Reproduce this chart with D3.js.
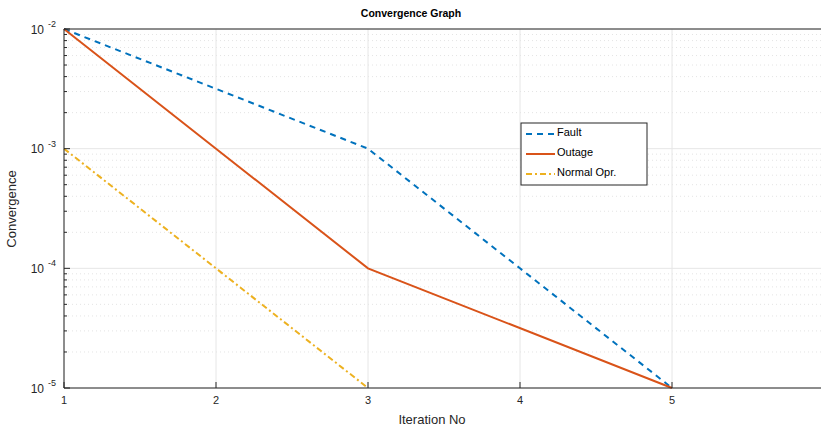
<!DOCTYPE html>
<html>
<head>
<meta charset="utf-8">
<script src="https://cdn.jsdelivr.net/npm/d3@7"></script>
<style>
  body { margin: 0; background: #fff; overflow: hidden; }
  svg { display: block; font-family: "Liberation Sans", Arial, sans-serif; }
</style>
</head>
<body>
<div id="chart"></div>
<script>
// Data
const faultX = [1, 3, 4, 5];
const faultY = [1e-2, 1e-3, 1e-4, 1e-5];
const outageX = [1, 2, 3, 5];
const outageY = [1e-2, 1e-3, 1e-4, 1e-5];
const normalX = [1, 2, 3];
const normalY = [1e-3, 1e-4, 1e-5];
const xTicks = [1, 2, 3, 4, 5];
const yExponents = [-2, -3, -4, -5];

const series = [
  { name: "Fault", xs: faultX, ys: faultY, color: "#0072BD", dash: "6,5" },
  { name: "Outage", xs: outageX, ys: outageY, color: "#D95319", dash: null },
  { name: "Normal Opr.", xs: normalX, ys: normalY, color: "#EDB120", dash: "6,3,2,3" }
];

// Layout
const W = 821, H = 429;
const plot = { left: 64, top: 29, right: 824, bottom: 388 };

const svg = d3.select("#chart").append("svg")
  .attr("width", W).attr("height", H);

const x = d3.scaleLinear().domain([1, 6]).range([plot.left, plot.right]);
const y = d3.scaleLog().domain([1e-5, 1e-2]).range([plot.bottom, plot.top]);

// minor grid (log)
const minors = [];
yExponents.forEach(e => {
  if (e === -2) return;
  for (let k = 2; k <= 9; k++) minors.push(k * Math.pow(10, e));
});

const grid = svg.append("g");
grid.selectAll(".minor").data(minors).enter().append("line")
  .attr("x1", plot.left).attr("x2", plot.right)
  .attr("y1", d => y(d)).attr("y2", d => y(d))
  .attr("stroke", "#e4e4e4").attr("stroke-width", 1)
  .attr("stroke-dasharray", "1,3");

grid.selectAll(".ymaj").data(yExponents.map(e => Math.pow(10, e))).enter().append("line")
  .attr("x1", plot.left).attr("x2", plot.right)
  .attr("y1", d => y(d)).attr("y2", d => y(d))
  .attr("stroke", "#e6e6e6").attr("stroke-width", 1);

grid.selectAll(".xmaj").data(xTicks).enter().append("line")
  .attr("x1", d => x(d)).attr("x2", d => x(d))
  .attr("y1", plot.top).attr("y2", plot.bottom)
  .attr("stroke", "#e6e6e6").attr("stroke-width", 1);

// lines
const line = d3.line().x(d => x(d[0])).y(d => y(d[1]));
series.forEach(s => {
  const pts = s.xs.map((v, i) => [v, s.ys[i]]);
  svg.append("path")
    .attr("d", line(pts))
    .attr("fill", "none")
    .attr("stroke", s.color)
    .attr("stroke-width", 2)
    .attr("stroke-dasharray", s.dash);
});

// axes box
const axisColor = "#262626";
svg.append("line").attr("x1", plot.left).attr("x2", plot.right).attr("y1", plot.top).attr("y2", plot.top)
  .attr("stroke", axisColor).attr("stroke-width", 1);
svg.append("line").attr("x1", plot.left).attr("x2", plot.right).attr("y1", plot.bottom).attr("y2", plot.bottom)
  .attr("stroke", axisColor).attr("stroke-width", 1);
svg.append("line").attr("x1", plot.left).attr("x2", plot.left).attr("y1", plot.top).attr("y2", plot.bottom)
  .attr("stroke", axisColor).attr("stroke-width", 1);

// y ticks
svg.selectAll(".ytick").data(yExponents.map(e => Math.pow(10, e))).enter().append("line")
  .attr("x1", plot.left).attr("x2", plot.left + 6)
  .attr("y1", d => y(d)).attr("y2", d => y(d))
  .attr("stroke", axisColor);
svg.selectAll(".yminor").data(minors).enter().append("line")
  .attr("x1", plot.left).attr("x2", plot.left + 3)
  .attr("y1", d => y(d)).attr("y2", d => y(d))
  .attr("stroke", axisColor);

// x ticks
svg.selectAll(".xtick").data(xTicks).enter().append("line")
  .attr("x1", d => x(d)).attr("x2", d => x(d))
  .attr("y1", plot.bottom).attr("y2", plot.bottom - 6)
  .attr("stroke", axisColor);

svg.selectAll(".xlab").data(xTicks).enter().append("text")
  .attr("x", d => x(d)).attr("y", plot.bottom + 16)
  .attr("text-anchor", "middle")
  .attr("font-size", 11).attr("fill", axisColor)
  .text(d => d);

const ylab = svg.selectAll(".ylab").data(yExponents).enter().append("g")
  .attr("transform", e => `translate(${plot.left - 8},${y(Math.pow(10, e))})`);
ylab.append("text")
  .attr("x", -12).attr("y", 4.5)
  .attr("text-anchor", "end")
  .attr("font-size", 12).attr("fill", axisColor)
  .text("10");
ylab.append("text")
  .attr("x", -8).attr("y", -2)
  .attr("text-anchor", "start")
  .attr("font-size", 9).attr("fill", axisColor)
  .text(e => e);

// title and labels
svg.append("text")
  .attr("x", 411).attr("y", 17)
  .attr("text-anchor", "middle")
  .attr("font-size", 10.5).attr("font-weight", "bold").attr("fill", "#000")
  .text("Convergence Graph");

svg.append("text")
  .attr("x", 432).attr("y", 424)
  .attr("text-anchor", "middle")
  .attr("font-size", 13).attr("fill", axisColor)
  .text("Iteration No");

svg.append("text")
  .attr("transform", "translate(16,209) rotate(-90)")
  .attr("text-anchor", "middle")
  .attr("font-size", 13).attr("fill", axisColor)
  .text("Convergence");

// legend
const lg = svg.append("g").attr("transform", "translate(521,123)");
lg.append("rect").attr("width", 126).attr("height", 62)
  .attr("fill", "#fff").attr("stroke", axisColor).attr("stroke-width", 1);
const items = lg.selectAll(".item").data(series).enter().append("g")
  .attr("transform", (d, i) => `translate(0,${11 + i * 20})`);
items.append("line")
  .attr("x1", 5).attr("x2", 34).attr("y1", 0).attr("y2", 0)
  .attr("stroke", d => d.color).attr("stroke-width", 2)
  .attr("stroke-dasharray", d => d.dash);
items.append("text")
  .attr("x", 36).attr("y", 2)
  .attr("font-size", 11).attr("fill", "#000")
  .text(d => d.name);
</script>
</body>
</html>
